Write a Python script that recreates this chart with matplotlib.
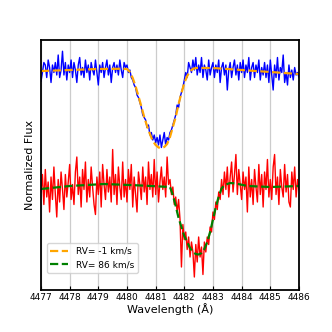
import numpy as np
import matplotlib
matplotlib.use("Agg")
import matplotlib.pyplot as plt

# observed spectra, sampled every 0.05 A from 4477 to 4486
wl_start, wl_end = 4477.0, 4486.0
blue_flux = [
    0.955, 0.99, 1.03, 1.02, 0.97, 1.04, 1.01, 0.95, 1.02, 0.99,
    1.03, 0.98, 1.06, 0.97, 1.00, 1.075, 0.98, 1.03, 0.96, 1.02,
    0.99, 1.04, 0.97, 1.03, 1.00, 0.95, 1.02, 1.05, 0.98, 1.01,
    0.97, 1.04, 0.99, 1.02, 0.96, 1.03, 1.00, 0.98, 1.04, 0.99,
    0.94, 1.02, 0.99, 1.03, 0.97, 1.01, 1.04, 0.98, 1.02, 0.95,
    1.01, 1.03, 0.99, 1.02, 0.98, 1.04, 1.00, 0.97, 1.03, 1.01,
    1.02, 0.99, 1.00, 0.97, 0.96, 0.94, 0.93, 0.90, 0.89, 0.87,
    0.85, 0.82, 0.81, 0.80, 0.77, 0.78, 0.74, 0.75, 0.72, 0.74,
    0.71, 0.73, 0.70, 0.74, 0.69, 0.72, 0.75, 0.70, 0.73, 0.72,
    0.75, 0.76, 0.78, 0.80, 0.82, 0.86, 0.85, 0.89, 0.91, 0.93,
    0.96, 0.99, 0.97, 1.03, 1.01, 0.99, 1.04, 1.00, 1.05, 0.98,
    1.02, 0.99, 1.05, 0.97, 1.02, 1.00, 0.96, 1.04, 0.98, 1.01,
    1.03, 0.97, 1.02, 0.99, 1.04, 0.95, 1.01, 1.03, 0.98, 1.02,
    0.92, 1.00, 1.03, 0.97, 1.01, 1.04, 0.98, 1.02, 0.96, 1.03,
    0.99, 1.04, 0.97, 1.02, 0.99, 1.05, 0.96, 1.01, 1.03, 0.97,
    1.02, 0.99, 1.04, 0.96, 1.01, 0.98, 1.03, 0.97, 1.02, 0.95,
    1.04, 0.98, 0.92, 1.02, 0.97, 1.05, 0.96, 1.01, 0.99, 1.06,
    0.95, 0.99, 0.94, 1.02, 0.97, 1.00, 0.96, 1.01, 0.98, 0.99,
    0.97,
]
red_flux = [
    0.98, 1.05, 0.93, 1.07, 0.96, 1.02, 0.90, 1.04, 0.95, 1.08,
    0.97, 0.88, 1.03, 0.94, 1.06, 0.99, 0.91, 1.05, 0.96, 1.02,
    1.09, 0.95, 1.01, 0.93, 1.06, 1.12, 0.97, 1.04, 0.92, 1.07,
    0.99, 1.10, 0.94, 1.03, 0.96, 1.08, 1.00, 0.93, 0.89, 1.04,
    0.97, 1.06, 0.92, 1.09, 1.01, 0.95, 1.07, 0.98, 1.04, 0.94,
    1.15, 0.97, 1.05, 0.93, 1.08, 1.00, 0.95, 1.10, 0.96, 1.03,
    0.94, 1.07, 0.99, 1.09, 0.92, 1.04, 0.97, 0.90, 1.06, 1.01,
    0.95, 1.08, 0.98, 1.04, 0.93, 1.10, 0.99, 1.05, 0.96, 1.11,
    0.97, 1.06, 0.94, 1.02, 1.08, 0.99, 1.04, 0.96, 1.12, 1.01,
    1.03, 0.97, 1.00, 0.93, 0.96, 0.90, 0.95, 0.87, 0.68, 0.85,
    0.79, 0.82, 0.75, 0.80, 0.72, 0.78, 0.74, 0.64, 0.77, 0.70,
    0.80, 0.72, 0.76, 0.65, 0.78, 0.74, 0.80, 0.77, 0.84, 0.82,
    0.90, 0.87, 0.94, 0.91, 0.98, 0.95, 1.03, 0.97, 1.06, 0.99,
    1.08, 0.96, 1.04, 1.10, 0.98, 1.05, 1.13, 0.97, 1.07, 1.01,
    0.95, 1.06, 0.99, 1.04, 0.90, 1.08, 0.96, 1.03, 0.93, 1.07,
    1.00, 0.94, 1.09, 0.97, 1.05, 0.92, 1.06, 0.99, 1.11, 0.96,
    1.03, 0.95, 1.08, 1.13, 0.97, 1.04, 0.93, 1.07, 1.00, 0.96,
    1.09, 0.98, 1.05, 0.94, 0.92, 1.06, 0.99, 1.08, 0.96, 1.03,
    0.99,
]

# model fits
blue_model_wl = [4477.0, 4478.0, 4479.0, 4479.8, 4480.0, 4480.1, 4480.2, 4480.3,
                 4480.4, 4480.5, 4480.6, 4480.7, 4480.8, 4480.9, 4481.0, 4481.1,
                 4481.2, 4481.3, 4481.4, 4481.5, 4481.6, 4481.7, 4481.8, 4481.9,
                 4482.0, 4482.1, 4482.2, 4482.3, 4482.4, 4483.0, 4484.0, 4485.0, 4486.0]
blue_model = [0.996, 1.000, 1.004, 1.005, 1.004, 0.992, 0.968, 0.935,
              0.895, 0.855, 0.812, 0.776, 0.744, 0.716, 0.700, 0.690,
              0.688, 0.692, 0.704, 0.732, 0.772, 0.812, 0.864, 0.908,
              0.948, 0.976, 0.996, 1.004, 1.008, 1.008, 1.000, 0.992, 0.984]
red_model_wl = [4477.0, 4478.0, 4479.2, 4480.5, 4481.5, 4481.6, 4481.7, 4481.8,
                4481.9, 4482.0, 4482.1, 4482.2, 4482.3, 4482.4, 4482.5, 4482.6,
                4482.7, 4482.8, 4482.9, 4483.0, 4483.1, 4483.2, 4483.3, 4483.4,
                4483.6, 4483.8, 4484.2, 4485.0, 4486.0]
red_model = [0.992, 1.004, 1.012, 1.006, 1.000, 0.968, 0.924, 0.876,
             0.840, 0.804, 0.780, 0.756, 0.740, 0.732, 0.730, 0.736,
             0.752, 0.780, 0.820, 0.870, 0.920, 0.962, 0.994, 1.008,
             1.016, 1.014, 1.004, 1.000, 1.004]
red_offset = 0.468

labels = ["RV= -1 km/s", "RV= 86 km/s"]

wl = np.linspace(wl_start, wl_end, len(blue_flux))
red_shift = np.array(red_flux) - red_offset
red_model_shift = np.array(red_model) - red_offset

fig = plt.figure(figsize=(3.32, 3.32), dpi=100)
ax = fig.add_axes([0.1235, 0.1265, 0.777, 0.753])

ax.plot(wl, blue_flux, color="blue", lw=1.0)
ax.plot(blue_model_wl, blue_model, color="orange", ls="--", lw=1.6, label=labels[0])
ax.plot(wl, red_shift, color="red", lw=1.0)
ax.plot(red_model_wl, red_model_shift, color="green", ls="--", lw=1.6, label=labels[1])

ax.set_xlim(4477, 4486)
ax.set_ylim(0.12, 1.12)
ax.set_xticks(np.arange(4477, 4487, 1))
ax.set_xticklabels([str(v) for v in range(4477, 4487)], fontsize=6.5)
ax.set_yticks([])
ax.tick_params(axis="x", direction="in", length=3, pad=2)
ax.grid(axis="x", color="#cccccc", lw=0.9)
ax.set_axisbelow(True)
for s in ax.spines.values():
    s.set_linewidth(1.3)

ax.set_xlabel("Wavelength (Å)", fontsize=8, labelpad=1)
ax.set_ylabel("Normalized Flux", fontsize=8, labelpad=4)
ax.legend(loc="lower left", bbox_to_anchor=(0.005, 0.05), fontsize=6.5)

fig.savefig("out.png", dpi=100)
